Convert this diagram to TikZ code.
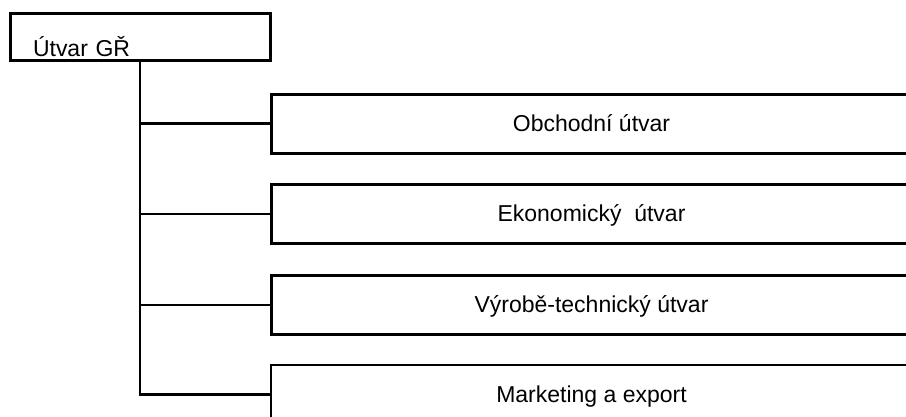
\documentclass[tikz,border=0pt]{standalone}
\usepackage{fontspec}
\setmainfont{Liberation Sans}
\begin{document}
\begin{tikzpicture}[x=1pt,y=-1pt,
  every node/.style={font=\fontsize{23}{27}\selectfont, inner sep=0pt},
  topbox/.style={draw, line width=3pt, minimum width=260pt, minimum height=47pt,
    text width=214pt, align=left, text height=39pt, text depth=0pt},
  unitbox/.style={draw, line width=3pt, minimum width=641pt, minimum height=59pt,
    text height=15pt, text depth=0pt},
  lastbox/.style={unitbox, line width=2pt},
  conn/.style={line width=2.2pt}]
\useasboundingbox (0,0) rectangle (906,416);
\fill[white] (0,0) rectangle (906,416);
\node[topbox] (gr) at (140,36.5) {Útvar GŘ};
\node[unitbox] (b1) at (591.5,123.5) {Obchodní útvar};
\node[unitbox] (b2) at (591.5,214) {Ekonomický\ \ útvar};
\node[unitbox] (b3) at (591.5,305) {Výrobě-technický útvar};
\node[lastbox] (b4) at (591.5,394.5) {Marketing a export};
\draw[conn] (gr.south) |- (b1.west);
\draw[conn] (gr.south) |- (b2.west);
\draw[conn] (gr.south) |- (b3.west);
\draw[conn] (gr.south) |- (b4.west);
\end{tikzpicture}
\end{document}
